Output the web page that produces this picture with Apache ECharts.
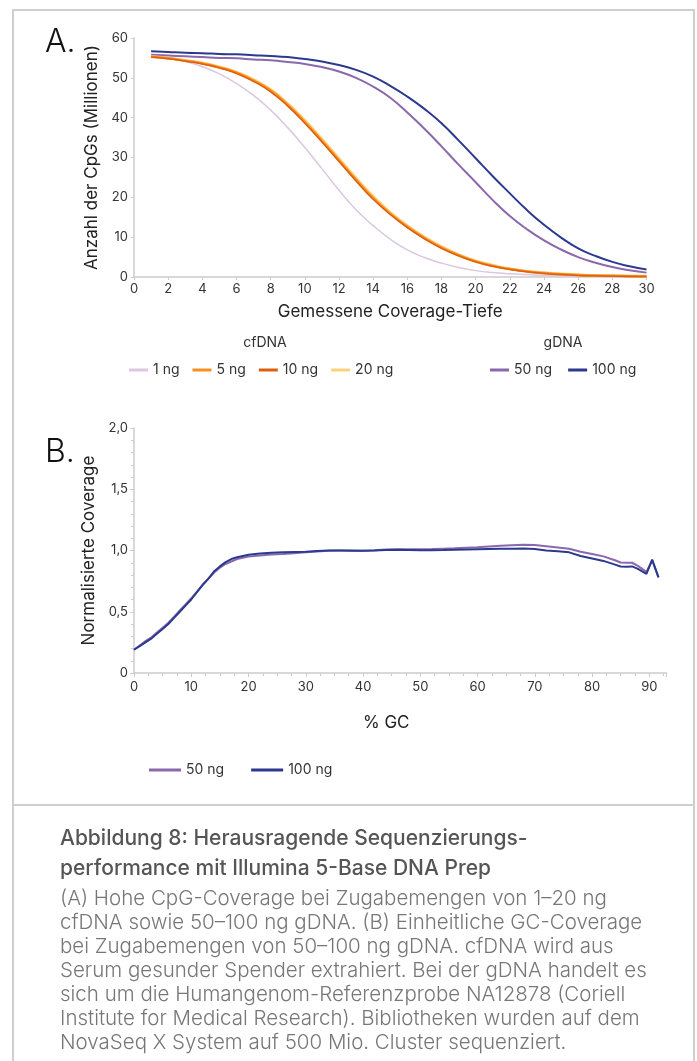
<!DOCTYPE html>
<html lang="de" style="height: 100%">
<head>
  <meta charset="utf-8">
  <script type="text/javascript" src="https://cdn.jsdelivr.net/npm/echarts@6/dist/echarts.min.js"></script>
</head>
<body style="height: 100%; margin: 0; background: #fff">
  <div id="container" style="width: 697px; height: 1061px"></div>
  <script type="text/javascript">
    // A: Anzahl der CpGs (Millionen) je Coverage-Tiefe
    var depth = [1, 2, 3, 4, 5, 6, 7, 8, 9, 10, 11, 12, 13, 14, 15, 16, 17, 18, 19, 20, 21, 22, 23, 24, 25, 26, 27, 28, 29, 30];
    var cf1 = [55.6, 55.0, 54.1, 52.8, 51.0, 48.6, 45.6, 41.9, 37.5, 32.5, 27.2, 21.8, 16.9, 12.9, 9.5, 6.8, 4.9, 3.5, 2.4, 1.6, 1.1, 0.8, 0.6, 0.4, 0.3, 0.2, 0.15, 0.1, 0.07, 0.05];
    var cf5 = [55.3, 54.9, 54.3, 53.6, 52.6, 51.3, 49.3, 46.8, 43.2, 38.9, 34.2, 29.3, 24.4, 19.8, 15.9, 12.6, 9.8, 7.4, 5.5, 3.9, 2.8, 2.0, 1.4, 1.0, 0.7, 0.5, 0.35, 0.3, 0.2, 0.15];
    var cf10 = [55.2, 54.8, 54.2, 53.5, 52.5, 51.1, 49.1, 46.5, 42.9, 38.6, 33.9, 29.0, 24.1, 19.5, 15.7, 12.4, 9.6, 7.2, 5.3, 3.8, 2.7, 1.9, 1.3, 0.9, 0.6, 0.4, 0.3, 0.2, 0.15, 0.1];
    var cf20 = [55.4, 55.0, 54.4, 53.8, 52.8, 51.5, 49.6, 47.1, 43.6, 39.4, 34.7, 29.8, 24.9, 20.3, 16.3, 12.9, 10.1, 7.7, 5.7, 4.1, 3.0, 2.1, 1.5, 1.1, 0.8, 0.6, 0.4, 0.35, 0.3, 0.25];
    var g50 = [55.8, 55.6, 55.4, 55.2, 55.0, 54.9, 54.6, 54.4, 54.0, 53.5, 52.7, 51.6, 50.0, 47.8, 45.0, 41.3, 37.2, 32.8, 28.2, 23.8, 19.3, 15.3, 12.0, 9.2, 6.9, 5.0, 3.6, 2.5, 1.7, 1.1];
    var g100 = [56.7, 56.5, 56.3, 56.2, 56.0, 55.9, 55.7, 55.5, 55.2, 54.7, 54.1, 53.2, 52.0, 50.3, 48.0, 45.3, 42.2, 38.6, 34.3, 29.8, 25.3, 21.0, 16.8, 13.1, 9.9, 7.2, 5.3, 3.8, 2.7, 1.9];

    // B: Normalisierte Coverage je % GC
    var gc = [0, 1, 2, 3, 4, 5, 6, 7, 8, 9, 10, 11, 12, 13, 14, 15, 16, 17, 18, 19, 20, 22, 24, 26, 28, 30, 32, 34, 36, 38, 40, 42, 44, 46, 48, 50, 52, 54, 56, 58, 60, 62, 64, 66, 68, 70, 72, 74, 76, 78, 80, 82, 84, 85, 86, 87, 88, 89.5, 90.5, 91.6];
    var cov50 = [0.19, 0.225, 0.26, 0.29, 0.33, 0.37, 0.41, 0.46, 0.51, 0.56, 0.61, 0.665, 0.72, 0.77, 0.82, 0.86, 0.89, 0.91, 0.93, 0.94, 0.95, 0.96, 0.968, 0.972, 0.978, 0.985, 0.992, 0.998, 1.0, 1.0, 0.998, 1.002, 1.008, 1.01, 1.01, 1.01, 1.012, 1.015, 1.018, 1.022, 1.026, 1.032, 1.038, 1.042, 1.046, 1.045, 1.035, 1.025, 1.015, 0.99, 0.972, 0.952, 0.92, 0.902, 0.9, 0.9, 0.875, 0.825, 0.92, 0.78];
    var cov100 = [0.19, 0.22, 0.25, 0.28, 0.32, 0.36, 0.40, 0.45, 0.50, 0.55, 0.60, 0.66, 0.72, 0.77, 0.83, 0.87, 0.905, 0.93, 0.945, 0.955, 0.965, 0.975, 0.982, 0.985, 0.988, 0.99, 0.995, 1.0, 1.0, 0.998, 0.997, 1.0, 1.005, 1.007, 1.005, 1.003, 1.003, 1.004, 1.006, 1.008, 1.01, 1.012, 1.014, 1.015, 1.016, 1.013, 1.0, 0.993, 0.985, 0.955, 0.935, 0.915, 0.885, 0.87, 0.868, 0.87, 0.85, 0.81, 0.925, 0.78];

    var captionTitle = 'Abbildung 8: Herausragende Sequenzierungs-\nperformance mit Illumina 5-Base DNA Prep';
    var captionBody = '(A) Hohe CpG-Coverage bei Zugabemengen von 1–20 ng\n' +
      'cfDNA sowie 50–100 ng gDNA. (B) Einheitliche GC-Coverage\n' +
      'bei Zugabemengen von 50–100 ng gDNA. cfDNA wird aus\n' +
      'Serum gesunder Spender extrahiert. Bei der gDNA handelt es\n' +
      'sich um die Humangenom-Referenzprobe NA12878 (Coriell\n' +
      'Institute for Medical Research). Bibliotheken wurden auf dem\n' +
      'NovaSeq X System auf 500 Mio. Cluster sequenziert.';

    function pairs(xs, ys) {
      return xs.map(function (x, i) {
        return [x, ys[i]];
      });
    }

    var axisGray = '#cccccc';
    var font = 'Inter, Roboto, sans-serif';

    var dom = document.getElementById('container');
    var myChart = echarts.init(dom, null, { renderer: 'canvas' });

    function lineSeries(name, xs, ys, color, width, axis) {
      return {
        name: name,
        type: 'line',
        xAxisIndex: axis,
        yAxisIndex: axis,
        data: pairs(xs, ys),
        smooth: axis === 0,
        showSymbol: false,
        symbol: 'none',
        lineStyle: { color: color, width: width },
        itemStyle: { color: color },
        emphasis: { disabled: true }
      };
    }

    var option = {
      animation: false,
      textStyle: { fontFamily: font },
      grid: [
        { left: 134, right: 50.5, top: 38, bottom: 784 },
        { left: 134, right: 30.5, top: 428, bottom: 388 }
      ],
      xAxis: [
        {
          gridIndex: 0,
          type: 'value',
          min: 0,
          max: 30,
          interval: 2,
          name: 'Gemessene Coverage-Tiefe',
          nameLocation: 'middle',
          nameGap: 26,
          nameTextStyle: { fontSize: 17, color: '#222' },
          axisLine: { show: true, lineStyle: { color: axisGray, width: 1.5 } },
          axisTick: { show: true, length: 3, lineStyle: { color: axisGray } },
          axisLabel: { fontSize: 13, color: '#333', margin: 6 },
          splitLine: { show: false }
        },
        {
          gridIndex: 1,
          type: 'value',
          min: 0,
          max: 93,
          interval: 10,
          name: '% GC',
          nameLocation: 'middle',
          nameGap: 41,
          nameTextStyle: { fontSize: 17, color: '#222', padding: [0, 28, 0, 0] },
          axisLine: { show: true, lineStyle: { color: axisGray, width: 1.5 } },
          axisTick: { show: true, length: 4, lineStyle: { color: axisGray } },
          minorTick: { show: true, splitNumber: 4, length: 3, lineStyle: { color: axisGray } },
          axisLabel: {
            fontSize: 13,
            color: '#333',
            margin: 8,
            formatter: function (v) {
              return v % 10 === 0 ? String(v) : '';
            }
          },
          splitLine: { show: false }
        }
      ],
      yAxis: [
        {
          gridIndex: 0,
          type: 'value',
          min: 0,
          max: 60,
          interval: 10,
          name: 'Anzahl der CpGs (Millionen)',
          nameLocation: 'middle',
          nameGap: 31,
          nameTextStyle: { fontSize: 17, color: '#222' },
          axisLine: { show: true, lineStyle: { color: axisGray, width: 1.5 } },
          axisTick: { show: true, length: 3, lineStyle: { color: axisGray } },
          axisLabel: { fontSize: 13, color: '#333', margin: 6 },
          splitLine: { show: false }
        },
        {
          gridIndex: 1,
          type: 'value',
          min: 0,
          max: 2,
          interval: 0.5,
          name: 'Normalisierte Coverage',
          nameLocation: 'middle',
          nameGap: 27,
          nameTextStyle: { fontSize: 17, color: '#222' },
          axisLine: { show: true, lineStyle: { color: axisGray, width: 1.5 } },
          axisTick: { show: true, length: 4, lineStyle: { color: axisGray } },
          minorTick: { show: true, splitNumber: 5, length: 3, lineStyle: { color: axisGray } },
          axisLabel: {
            fontSize: 13,
            color: '#333',
            margin: 6,
            formatter: function (v) {
              return v === 0 ? '0' : v.toFixed(1).replace('.', ',');
            }
          },
          splitLine: { show: false }
        }
      ],
      legend: [
        {
          data: ['1 ng', '5 ng', '10 ng', '20 ng'],
          left: 124,
          top: 358,
          icon: 'rect',
          itemWidth: 19,
          itemHeight: 3,
          itemGap: 13,
          selectedMode: false,
          textStyle: { fontSize: 14, color: '#333' }
        },
        {
          data: ['50 ng', '100 ng'],
          left: 485,
          top: 358,
          icon: 'rect',
          itemWidth: 19,
          itemHeight: 3,
          itemGap: 16,
          selectedMode: false,
          textStyle: { fontSize: 14, color: '#333' }
        },
        {
          data: ['50 ng', '100 ng'],
          left: 144,
          top: 758,
          icon: 'rect',
          itemWidth: 32,
          itemHeight: 3,
          itemGap: 27,
          selectedMode: false,
          textStyle: { fontSize: 14, color: '#333' }
        }
      ],
      graphic: [
        {
          type: 'rect',
          shape: { x: 13, y: 10, width: 681, height: 1100 },
          style: { fill: 'none', stroke: '#cfcfcf', lineWidth: 2 }
        },
        {
          type: 'line',
          shape: { x1: 13, y1: 805, x2: 694, y2: 805 },
          style: { stroke: '#cfcfcf', lineWidth: 2 }
        },
        {
          type: 'text',
          x: 45,
          y: 42,
          style: { text: 'A.', fontSize: 32, fontWeight: 300, fontFamily: font, fill: '#111', verticalAlign: 'middle' }
        },
        {
          type: 'text',
          x: 45,
          y: 452,
          style: { text: 'B.', fontSize: 32, fontWeight: 300, fontFamily: font, fill: '#111', verticalAlign: 'middle' }
        },
        {
          type: 'text',
          x: 265,
          y: 343,
          style: { text: 'cfDNA', fontSize: 14, fontFamily: font, fill: '#333', align: 'center', verticalAlign: 'middle' }
        },
        {
          type: 'text',
          x: 563,
          y: 343,
          style: { text: 'gDNA', fontSize: 14, fontFamily: font, fill: '#333', align: 'center', verticalAlign: 'middle' }
        },
        {
          type: 'text',
          x: 60,
          y: 824,
          style: {
            text: captionTitle,
            fontSize: 21,
            fontWeight: 500,
            lineHeight: 30,
            fontFamily: font,
            fill: '#555',
            verticalAlign: 'top'
          }
        },
        {
          type: 'text',
          x: 60,
          y: 887,
          style: {
            text: captionBody,
            fontSize: 20.5,
            fontWeight: 300,
            lineHeight: 24,
            fontFamily: font,
            fill: '#777',
            verticalAlign: 'top'
          }
        }
      ],
      series: [
        lineSeries('1 ng', depth, cf1, '#dcc6e2', 1.5, 0),
        lineSeries('50 ng', depth, g50, '#8a68ad', 2, 0),
        lineSeries('100 ng', depth, g100, '#2b3a8f', 2, 0),
        lineSeries('20 ng', depth, cf20, '#fdd07c', 2.5, 0),
        lineSeries('5 ng', depth, cf5, '#f7901e', 2.5, 0),
        lineSeries('10 ng', depth, cf10, '#df5e0e', 1.5, 0),
        lineSeries('50 ng', gc, cov50, '#8a68ad', 2, 1),
        lineSeries('100 ng', gc, cov100, '#2b3a8f', 2, 1)
      ]
    };

    myChart.setOption(option);
  </script>
</body>
</html>
